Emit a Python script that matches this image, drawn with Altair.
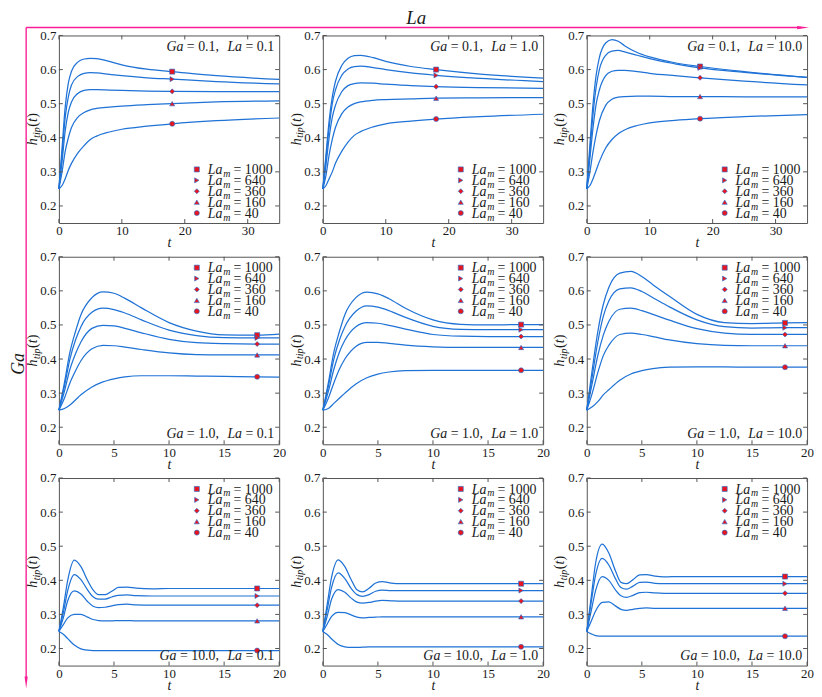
import altair as alt
import pandas as pd

SERIF = "Liberation Serif"
BLUE = "#1f72d6"
RED = "#e8141e"
PINK = "#fa1e96"
FRAME = "#555555"
TXT = "#1a1a1a"

W, H = 222, 189

GA = ["0.1", "1.0", "10.0"]
LA = ["0.1", "1.0", "10.0"]
LAM = ["1000", "640", "360", "160", "40"]
SHAPES = ["square", "triangle-right", "diamond", "triangle-up", "circle"]
YT = [0.2, 0.3, 0.4, 0.5, 0.6, 0.7]
XT_TOP = [0, 10, 20, 30]
XT_OTHER = [0, 5, 10, 15, 20]

# time grids
T_TOP = [0, 0.5, 1, 1.5, 2, 3, 4, 5, 6, 8, 10, 14, 18, 25, 35]
T_MID = [0, 0.5, 1, 1.5, 2, 3, 4, 5, 6, 7.5, 10, 12.5, 15, 18, 20]
T_BOT = [0, 0.4, 0.8, 1.4, 2, 2.6, 3.1, 3.6, 4.2, 4.8, 5.4, 6.2, 7, 8.5, 10, 12, 15, 18, 20]

# h_tip(t) curves, order La_m = 1000, 640, 360, 160, 40
H_G01_L01 = [
    [.25, .37, .49, .56, .595, .622, .631, .633, .632, .624, .614, .601, .594, .582, .571],
    [.25, .35, .46, .52, .555, .580, .589, .591, .590, .586, .582, .576, .572, .565, .558],
    [.25, .33, .42, .475, .505, .530, .539, .541, .541, .540, .539, .537, .536, .535, .535],
    [.25, .30, .36, .40, .43, .46, .474, .482, .486, .490, .493, .497, .500, .505, .508],
    [.25, .26, .28, .305, .325, .355, .377, .395, .405, .417, .425, .434, .441, .450, .458],
]
H_G01_L1 = [
    [.25, .35, .45, .52, .565, .612, .633, .641, .642, .635, .624, .609, .600, .587, .575],
    [.25, .34, .43, .50, .54, .583, .602, .609, .610, .606, .600, .590, .583, .574, .565],
    [.25, .32, .40, .46, .495, .535, .553, .559, .561, .560, .557, .553, .550, .547, .545],
    [.25, .29, .35, .395, .43, .47, .490, .500, .505, .510, .512, .514, .516, .517, .518],
    [.25, .26, .28, .30, .325, .36, .387, .407, .418, .432, .441, .449, .455, .462, .469],
]
H_G01_L10 = [
    [.25, .38, .50, .585, .635, .678, .688, .683, .670, .650, .637, .620, .609, .594, .577],
    [.25, .36, .47, .55, .60, .642, .654, .656, .652, .642, .632, .617, .605, .592, .577],
    [.25, .34, .43, .50, .54, .582, .595, .598, .598, .594, .589, .582, .576, .566, .555],
    [.25, .30, .36, .41, .45, .495, .513, .519, .521, .522, .522, .521, .521, .520, .520],
    [.25, .26, .28, .305, .33, .37, .395, .412, .423, .436, .444, .451, .456, .462, .468],
]
H_G1_L01 = [
    [.25, .33, .42, .48, .53, .580, .597, .593, .578, .550, .507, .482, .471, .470, .473],
    [.25, .32, .40, .455, .495, .537, .549, .545, .535, .515, .485, .469, .463, .462, .462],
    [.25, .305, .37, .415, .45, .49, .499, .497, .49, .477, .458, .448, .445, .444, .444],
    [.25, .285, .33, .365, .395, .430, .440, .439, .435, .428, .418, .413, .412, .412, .412],
    [.25, .255, .265, .28, .295, .318, .333, .342, .348, .351, .351, .350, .349, .348, .347],
]
H_G1_L1 = [
    [.25, .33, .42, .48, .53, .580, .596, .591, .577, .549, .515, .502, .500, .501, .501],
    [.25, .32, .40, .455, .495, .540, .556, .552, .542, .522, .496, .487, .486, .486, .486],
    [.25, .305, .37, .42, .455, .495, .507, .505, .499, .488, .472, .467, .466, .466, .466],
    [.25, .285, .33, .37, .40, .437, .449, .449, .446, .441, .436, .434, .434, .434, .434],
    [.25, .255, .27, .285, .30, .327, .345, .356, .362, .366, .367, .367, .367, .367, .367],
]
H_G1_L10 = [
    [.25, .37, .48, .56, .61, .652, .657, .642, .618, .584, .531, .507, .504, .506, .507],
    [.25, .35, .45, .525, .57, .606, .609, .598, .580, .553, .515, .495, .491, .492, .492],
    [.25, .33, .41, .47, .51, .546, .549, .542, .531, .514, .489, .476, .472, .472, .472],
    [.25, .30, .36, .41, .44, .472, .476, .472, .466, .456, .445, .440, .439, .439, .439],
    [.25, .26, .275, .295, .31, .338, .356, .366, .372, .376, .377, .377, .376, .376, .376],
]
H_G10_L01 = [
    [.25, .32, .40, .459, .44, .40, .372, .358, .358, .368, .379, .380, .377, .375, .376, .376, .376, .376, .376],
    [.25, .305, .37, .417, .402, .372, .352, .345, .345, .351, .356, .357, .355, .354, .354, .354, .354, .354, .354],
    [.25, .29, .34, .369, .36, .338, .324, .320, .321, .325, .329, .330, .328, .327, .327, .327, .327, .327, .327],
    [.25, .27, .29, .300, .300, .292, .285, .282, .281, .281, .282, .282, .281, .281, .281, .281, .281, .281, .281],
    [.25, .242, .229, .210, .199, .195, .194, .194, .194, .194, .194, .194, .194, .194, .194, .194, .194, .194, .194],
]
H_G10_L1 = [
    [.25, .33, .41, .460, .44, .40, .372, .366, .377, .392, .396, .392, .390, .390, .390, .390, .390, .390, .390],
    [.25, .315, .38, .422, .405, .375, .358, .353, .358, .368, .371, .370, .370, .370, .370, .370, .370, .370, .370],
    [.25, .295, .345, .373, .365, .347, .336, .333, .335, .339, .341, .340, .339, .339, .339, .339, .339, .339, .339],
    [.25, .272, .294, .306, .305, .298, .292, .290, .291, .292, .293, .293, .293, .293, .293, .293, .293, .293, .293],
    [.25, .241, .228, .212, .205, .203, .203, .204, .205, .205, .205, .205, .205, .205, .205, .205, .205, .205, .205],
]
H_G10_L10 = [
    [.25, .35, .45, .506, .48, .428, .394, .390, .402, .416, .417, .412, .410, .411, .411, .411, .411, .411, .411],
    [.25, .335, .415, .464, .445, .405, .379, .374, .383, .394, .395, .391, .390, .390, .390, .390, .390, .390, .390],
    [.25, .31, .37, .411, .400, .372, .355, .350, .356, .364, .365, .363, .362, .362, .362, .362, .362, .362, .362],
    [.25, .28, .31, .335, .337, .325, .315, .312, .315, .318, .319, .318, .318, .318, .318, .318, .318, .318, .318],
    [.25, .243, .238, .236, .236, .236, .236, .236, .236, .236, .236, .236, .236, .236, .236, .236, .236, .236, .236],
]

T_ROWS = [T_TOP, T_MID, T_BOT]
H_ROWS = [
    [H_G01_L01, H_G01_L1, H_G01_L10],
    [H_G1_L01, H_G1_L1, H_G1_L10],
    [H_G10_L01, H_G10_L1, H_G10_L10],
]
MARK_T = 18

# Times / Liberation Serif advance widths (em)
ROMAN_W = {".": .25, ",": .25, " ": .25, "=": .564, "(": .333, ")": .333}
ITALIC_W = {"G": .722, "a": .5, "L": .556, "m": .722, "h": .5, "t": .278,
            "i": .278, "p": .5}


def text_width(s, italic, size):
    table = ITALIC_W if italic else ROMAN_W
    return sum(table.get(ch, .5) for ch in s) * size


ONE = pd.DataFrame({"o": [0]})


def rich(pieces, x, y, angle=0, align="left"):
    """pieces: list of (text, italic, size, dy) or ('', gap_px)."""
    total = 0
    for p in pieces:
        total += p[1] if p[0] == "" else text_width(p[0], p[1], p[2])
    off = 0
    if align == "right":
        off = -total
    elif align == "center":
        off = -total / 2
    layers = []
    for p in pieces:
        if p[0] == "":
            off += p[1]
            continue
        txt, it, size, dy = p
        kw = dict(text=txt, font=SERIF, fontSize=size,
                  fontStyle="italic" if it else "normal", align="left",
                  baseline="alphabetic", dx=off, dy=dy, color=TXT)
        if angle:
            kw["angle"] = angle
        layers.append(alt.Chart(ONE).mark_text(**kw).encode(
            x=alt.value(x), y=alt.value(y)))
        off += text_width(txt, it, size)
    return layers


def panel(r, c):
    tv = T_ROWS[r]
    curves = H_ROWS[r][c]
    recs = [{"t": t, "h": h, "lam": LAM[k]}
            for k, cur in enumerate(curves) for t, h in zip(tv, cur)]
    df = pd.DataFrame(recs)
    xt = XT_TOP if r == 0 else XT_OTHER
    xs = alt.Scale(domain=[0, tv[-1]], nice=False, zero=False)
    ys = alt.Scale(domain=[0.15, 0.7], nice=False, zero=False)
    xaxis = alt.Axis(values=xt, title="t", grid=False, domain=False, ticks=False,
                     labelPadding=2, titlePadding=-2, labelFlush=False, format="d")
    yaxis = alt.Axis(values=YT, title=None, grid=False, domain=False, ticks=False,
                     labelPadding=3, format=".1f")

    base = alt.Chart(df)
    layers = []
    layers.append(base.mark_line(color=BLUE, strokeWidth=1.25, interpolate="monotone").encode(
        x=alt.X("t:Q", scale=xs, axis=xaxis),
        y=alt.Y("h:Q", scale=ys, axis=yaxis),
        detail="lam:N"))
    layers.append(base.transform_filter(alt.datum.t == MARK_T).mark_point(
        filled=True, size=26, fill=RED, stroke=BLUE, strokeWidth=0.6, opacity=1).encode(
        x=alt.X("t:Q", scale=xs, axis=xaxis),
        y=alt.Y("h:Q", scale=ys, axis=yaxis),
        shape=alt.Shape("lam:N", scale=alt.Scale(domain=LAM, range=SHAPES), legend=None)))

    # inner ticks on all four sides
    ytd = alt.Chart(pd.DataFrame({"v": YT}))
    xtd = alt.Chart(pd.DataFrame({"v": xt}))
    layers.append(ytd.mark_rule(color=FRAME, strokeWidth=1).encode(
        y=alt.Y("v:Q", scale=ys, axis=yaxis), x=alt.value(0), x2=alt.value(4)))
    layers.append(ytd.mark_rule(color=FRAME, strokeWidth=1).encode(
        y=alt.Y("v:Q", scale=ys, axis=yaxis), x=alt.value(W - 4), x2=alt.value(W)))
    layers.append(xtd.mark_rule(color=FRAME, strokeWidth=1).encode(
        x=alt.X("v:Q", scale=xs, axis=xaxis), y=alt.value(H), y2=alt.value(H - 4)))
    layers.append(xtd.mark_rule(color=FRAME, strokeWidth=1).encode(
        x=alt.X("v:Q", scale=xs, axis=xaxis), y=alt.value(0), y2=alt.value(4)))

    # legend
    ly0 = 135 if r == 0 else 11
    for i, (lam, shp) in enumerate(zip(LAM, SHAPES)):
        cy = ly0 + i * 11
        layers.append(alt.Chart(ONE).mark_point(
            shape=shp, filled=True, size=26, fill=RED, stroke=BLUE,
            strokeWidth=0.6, opacity=1).encode(x=alt.value(139), y=alt.value(cy)))
        layers += rich([("La", True, 14, 0), ("", 0.8), ("m", True, 10, 3), ("", 3.2),
                        ("=", False, 14, 0), ("", 3.5), (lam, False, 14, 0)],
                       150, cy + 4.6)

    # annotation
    ay = 15.5 if r == 0 else 183
    layers += rich([("Ga", True, 14, 0), ("", 3.5), ("=", False, 14, 0), ("", 3.5),
                    (GA[r] + ",", False, 14, 0), ("", 8.5), ("La", True, 14, 0),
                    ("", 3.5), ("=", False, 14, 0), ("", 3.5), (LA[c], False, 14, 0)],
                   W - 5, ay, align="right")

    # y-axis title h_tip(t)
    layers += rich([("h", True, 14, 0), ("", 0.6), ("tip", True, 10, 3), ("", 0.6),
                    ("(", False, 14, 0), ("t", True, 14, 0), ("", 0.3),
                    (")", False, 14, 0)],
                   -22.5, H / 2, angle=270, align="center")

    if r == 0 and c == 0:
        layers.append(alt.Chart(ONE).mark_rule(color=PINK, strokeWidth=1.4).encode(
            x=alt.value(-33), x2=alt.value(748), y=alt.value(-8)))
        layers.append(alt.Chart(ONE).mark_point(
            shape="M-1,-0.27L1,0L-1,0.27Z", filled=True, size=144, color=PINK,
            opacity=1).encode(x=alt.value(750), y=alt.value(-8)))
        layers.append(alt.Chart(ONE).mark_rule(color=PINK, strokeWidth=1.4).encode(
            x=alt.value(-33), y=alt.value(-8), y2=alt.value(648)))
        layers.append(alt.Chart(ONE).mark_point(
            shape="M-0.27,-1L0,1L0.27,-1Z", filled=True, size=144, color=PINK,
            opacity=1).encode(x=alt.value(-33), y=alt.value(652)))
        layers.append(alt.Chart(ONE).mark_text(
            text="La", font=SERIF, fontSize=19, fontStyle="italic", align="center",
            baseline="alphabetic", color=TXT).encode(x=alt.value(360), y=alt.value(-12)))
        layers.append(alt.Chart(ONE).mark_text(
            text="Ga", font=SERIF, fontSize=18, fontStyle="italic", align="center",
            baseline="alphabetic", angle=270, color=TXT).encode(
            x=alt.value(-35.5), y=alt.value(331)))

    return alt.layer(*layers).properties(width=W, height=H)


panels = [panel(r, c) for r in range(3) for c in range(3)]

chart = alt.concat(*panels, columns=3, spacing={"row": 34, "column": 44},
                   bounds="flush").properties(
    padding={"left": 1.3, "top": -3, "right": 0, "bottom": 2},
    background="white",
).configure_view(stroke=FRAME, strokeWidth=1).configure_axis(
    labelFont=SERIF, labelFontSize=13, labelColor=TXT,
    titleFont=SERIF, titleFontStyle="italic", titleFontWeight="normal",
    titleFontSize=14, titleColor=TXT,
)

chart.save("out.html", embed_options={"renderer": "svg", "actions": False})
